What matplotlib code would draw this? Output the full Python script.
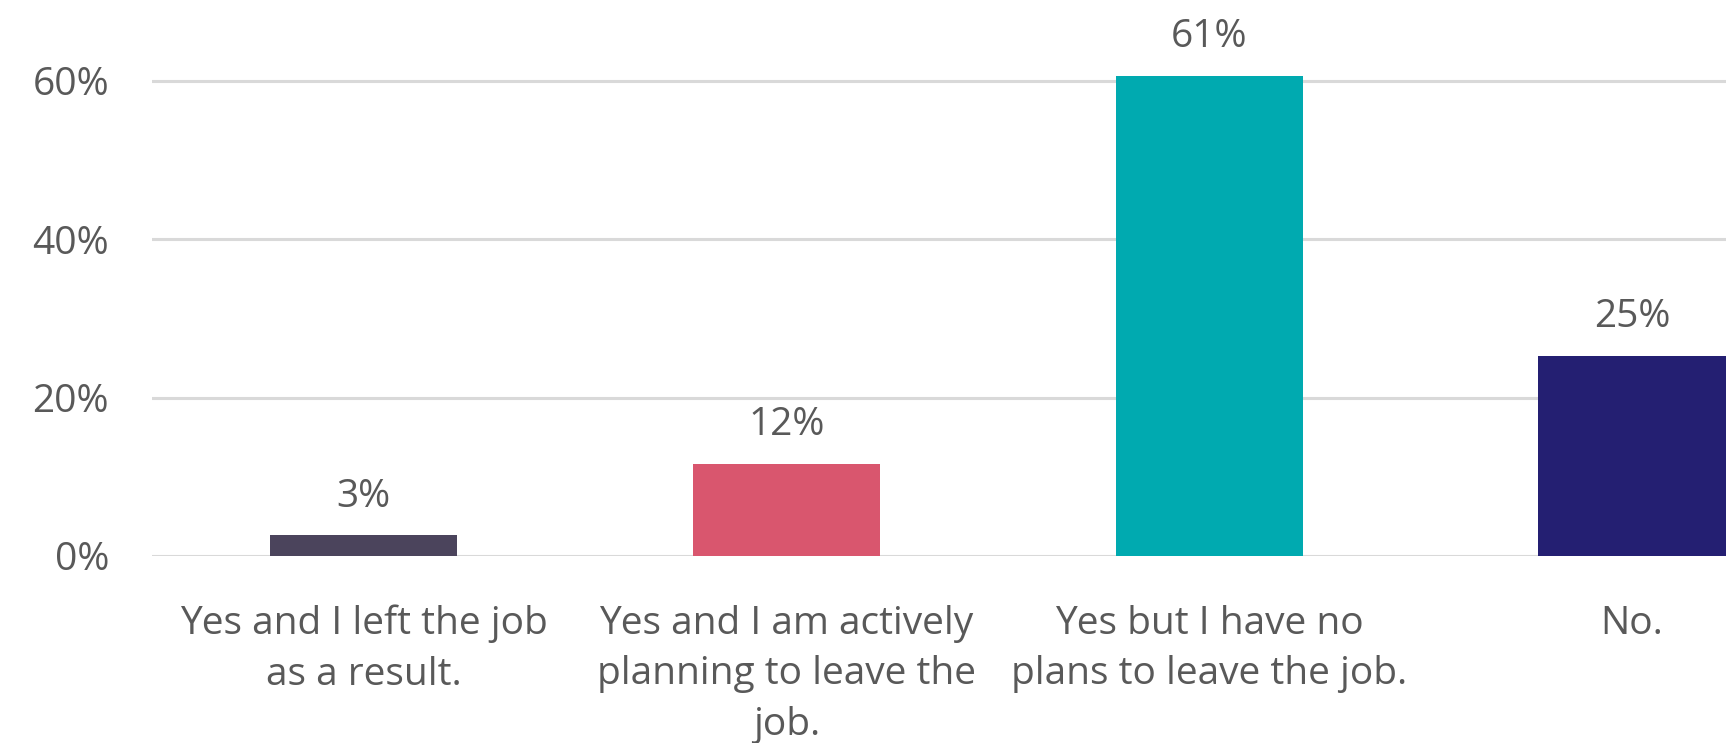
import matplotlib
matplotlib.use("Agg")
import matplotlib.pyplot as plt

categories = ["Yes and I left the job\nas a result.",
              "Yes and I am actively\nplanning to leave the\njob.",
              "Yes but I have no\nplans to leave the job.",
              "No."]
values = [2.6, 11.6, 60.6, 25.3]
colors = ["#4B445C", "#D9566E", "#00AAB0", "#241F72"]
yticks = [0, 20, 40, 60]

W, H = 1726, 743
fig = plt.figure(figsize=(W / 100, H / 100), dpi=100)
ax = fig.add_axes([152 / W, 1 - 556 / H, 1 - 152 / W, 556 / H])

plt.rcParams['font.family'] = ['Open Sans', 'DejaVu Sans']
txt = "#595959"
fs = 28
fam = ['Open Sans', 'DejaVu Sans']

x = range(len(values))
ax.bar(x, values, width=0.443, color=colors, zorder=3)
ax.set_xlim(-0.5, 3.222)
ax.set_ylim(0, 70.16)
ax.set_yticks(yticks)
ax.set_yticklabels([f"{v}%" for v in yticks], family=fam, fontsize=fs, color=txt)
ax.set_xticks(list(x))
ax.set_xticklabels(categories, family=fam, fontsize=fs, color=txt, linespacing=1.43)
ax.tick_params(axis='both', length=0)
ax.tick_params(axis='y', pad=31)
ax.tick_params(axis='x', pad=35)
for s in ax.spines.values():
    s.set_visible(False)
ax.grid(axis='y', color="#D9D9D9", linewidth=2.2, zorder=0)
ax.set_axisbelow(True)

for i, v in enumerate(values):
    ax.annotate(f"{v:.0f}%", (i, v), xytext=(0, 28), textcoords="offset points",
                ha="center", va="center", fontsize=fs, color=txt,
                family=fam, annotation_clip=False)

fig.savefig("out.png", dpi=100)
